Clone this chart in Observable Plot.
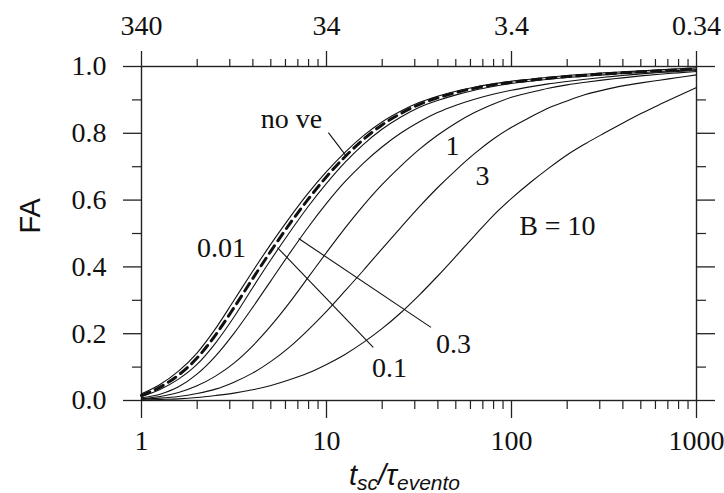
<!DOCTYPE html>
<html>
<head>
<meta charset="utf-8">
<script src="https://cdn.jsdelivr.net/npm/d3@7"></script>
<script src="https://cdn.jsdelivr.net/npm/@observablehq/plot@0.6"></script>
<style>
  html, body { margin: 0; padding: 0; background: #fff; }
</style>
</head>
<body>
<div id="chart"></div>
<script>
// ---- data ----
const xs = [1, 1.259, 1.585, 1.995, 2.512, 3.162, 3.981, 5.012, 6.310, 7.943,
            10, 12.59, 15.85, 19.95, 25.12, 31.62, 39.81, 50.12, 63.10, 79.43,
            100, 125.9, 158.5, 199.5, 251.2, 316.2, 398.1, 501.2, 631.0, 794.3, 1000];
const noVe = [0.020, 0.048, 0.088, 0.142, 0.215, 0.300, 0.386, 0.469, 0.547, 0.620, 0.685, 0.743, 0.793, 0.834, 0.866, 0.892, 0.911, 0.926, 0.938, 0.948, 0.956, 0.962, 0.968, 0.973, 0.977, 0.981, 0.984, 0.987, 0.990, 0.993, 0.996];
const b001 = [0.015, 0.040, 0.076, 0.127, 0.196, 0.278, 0.364, 0.448, 0.528, 0.602, 0.670, 0.730, 0.782, 0.825, 0.859, 0.886, 0.906, 0.922, 0.935, 0.945, 0.953, 0.959, 0.965, 0.970, 0.974, 0.978, 0.981, 0.984, 0.987, 0.990, 0.993];
const b01  = [0.012, 0.033, 0.064, 0.108, 0.172, 0.250, 0.337, 0.422, 0.503, 0.580, 0.650, 0.713, 0.767, 0.812, 0.848, 0.877, 0.898, 0.915, 0.929, 0.940, 0.949, 0.956, 0.962, 0.967, 0.971, 0.975, 0.979, 0.982, 0.985, 0.988, 0.991];
const b03  = [0.008, 0.019, 0.041, 0.079, 0.133, 0.201, 0.278, 0.359, 0.440, 0.518, 0.590, 0.655, 0.711, 0.759, 0.800, 0.834, 0.862, 0.884, 0.902, 0.917, 0.929, 0.939, 0.948, 0.955, 0.962, 0.968, 0.973, 0.978, 0.982, 0.985, 0.988];
const b1   = [0.005, 0.012, 0.024, 0.044, 0.073, 0.112, 0.163, 0.224, 0.293, 0.368, 0.443, 0.516, 0.584, 0.646, 0.701, 0.751, 0.794, 0.831, 0.862, 0.887, 0.908, 0.922, 0.935, 0.945, 0.953, 0.960, 0.966, 0.972, 0.977, 0.981, 0.985];
const b3   = [0.004, 0.007, 0.012, 0.021, 0.034, 0.055, 0.082, 0.117, 0.160, 0.211, 0.267, 0.328, 0.390, 0.454, 0.517, 0.579, 0.637, 0.690, 0.739, 0.782, 0.818, 0.848, 0.876, 0.897, 0.916, 0.930, 0.942, 0.951, 0.959, 0.967, 0.975];
const b10  = [0.001, 0.003, 0.005, 0.009, 0.015, 0.022, 0.032, 0.045, 0.062, 0.082, 0.108, 0.138, 0.174, 0.215, 0.262, 0.315, 0.372, 0.432, 0.493, 0.553, 0.605, 0.652, 0.695, 0.735, 0.769, 0.800, 0.830, 0.859, 0.886, 0.912, 0.937];

const solidSeries = [["no ve", noVe], ["0.1", b01], ["0.3", b03], ["1", b1], ["3", b3], ["10", b10]];
const dashedSeries = [["0.01", b001]];

const xMajor = [1, 10, 100, 1000];
const xMinor = [2,3,4,5,6,7,8,9, 20,30,40,50,60,70,80,90, 200,300,400,500,600,700,800,900];
const topLabels = ["340", "34", "3.4", "0.34"];
const yMajor = [0, 0.2, 0.4, 0.6, 0.8, 1.0];
const yMinor = [0.1, 0.3, 0.5, 0.7, 0.9];

// curve labels and leader lines (data coordinates)
const labelText = ["no ve", "0.01", "0.1", "0.3", "1", "3", "B = 10"];
const labelX    = [6.47, 2.71, 21.9, 48.6, 48, 69.7, 177];
const labelY    = [0.844, 0.455, 0.096, 0.168, 0.763, 0.671, 0.521];
const leaderX1 = [10.24, 5.43, 7.07];
const leaderY1 = [0.802, 0.458, 0.485];
const leaderX2 = [12.7, 17.9, 36.7];
const leaderY2 = [0.734, 0.159, 0.219];

// ---- tables ----
const toRows = list => list.flatMap(([name, ys]) => xs.map((x, i) => ({series: name, x, y: ys[i]})));
const solidRows = toRows(solidSeries);
const dashedRows = toRows(dashedSeries);
const labels = labelText.map((t, i) => ({t, x: labelX[i], y: labelY[i]}));
const leaders = leaderX1.map((d, i) => ({x1: d, y1: leaderY1[i], x2: leaderX2[i], y2: leaderY2[i]}));
const topMap = new Map(xMajor.map((d, i) => [d, topLabels[i]]));

const serif = "'Liberation Serif', 'DejaVu Serif', serif";
const sans = "'Liberation Sans', Arial, sans-serif";
const axisColor = "#222";

const plot = Plot.plot({
  width: 724,
  height: 493,
  marginLeft: 141,
  marginRight: 28,
  marginTop: 66,
  marginBottom: 93,
  x: {type: "log", domain: [1, 1000]},
  y: {domain: [0, 1]},
  style: {fontFamily: serif, fontSize: "28px", color: "#111", background: "#fff", overflow: "visible"},
  marks: [
    // bottom axis
    Plot.axisX({anchor: "bottom", ticks: xMajor, tickSize: 18, tickPadding: 12, tickFormat: d => String(d), label: null, fontSize: 28, stroke: axisColor, strokeWidth: 1.3}),
    Plot.axisX({anchor: "bottom", ticks: xMinor, tickSize: 9, tickFormat: () => "", label: null, stroke: axisColor, strokeWidth: 1.2}),
    // top axis
    Plot.axisX({anchor: "top", ticks: xMajor, tickSize: 16, tickPadding: 16, tickFormat: d => topMap.get(d), label: null, fontSize: 28, stroke: axisColor, strokeWidth: 1.3}),
    Plot.axisX({anchor: "top", ticks: xMinor, tickSize: 8, tickFormat: () => "", label: null, stroke: axisColor, strokeWidth: 1.2}),
    // left axis
    Plot.axisY({anchor: "left", ticks: yMajor, tickSize: 18, tickPadding: 17, tickFormat: d3.format(".1f"), label: null, fontSize: 28, stroke: axisColor, strokeWidth: 1.3}),
    Plot.axisY({anchor: "left", ticks: yMinor, tickSize: 9, tickFormat: () => "", label: null, stroke: axisColor, strokeWidth: 1.2}),
    // right axis
    Plot.axisY({anchor: "right", ticks: yMajor, tickSize: 18, tickFormat: () => "", label: null, stroke: axisColor, strokeWidth: 1.3}),
    Plot.axisY({anchor: "right", ticks: yMinor, tickSize: 9, tickFormat: () => "", label: null, stroke: axisColor, strokeWidth: 1.2}),
    Plot.frame({stroke: axisColor, strokeWidth: 1.4}),
    // curves
    Plot.line(solidRows, {x: "x", y: "y", z: "series", curve: "monotone-x", stroke: "#111", strokeWidth: 1.1}),
    Plot.line(dashedRows, {x: "x", y: "y", z: "series", curve: "monotone-x", stroke: "#111", strokeWidth: 3, strokeDasharray: "9,6"}),
    // leader lines
    Plot.link(leaders, {x1: "x1", y1: "y1", x2: "x2", y2: "y2", stroke: "#111", strokeWidth: 1.1}),
    // labels
    Plot.text(labels, {x: "x", y: "y", text: "t", fontSize: 28, fontFamily: serif, fill: "#111"}),
    // y axis title
    Plot.text(["FA"], {frameAnchor: "left", dx: -111, rotate: -90, fontSize: 29, fontFamily: sans, fill: "#111"})
  ]
});

// x axis title with subscripts
const svg = d3.select(plot);
const xr = plot.scale("x").range;
const t = svg.append("text")
  .attr("x", (xr[0] + xr[1]) / 2 - 14)
  .attr("y", 485)
  .attr("text-anchor", "middle")
  .attr("font-family", sans)
  .attr("font-style", "italic")
  .attr("font-size", 29)
  .attr("fill", "#111");
t.append("tspan").text("t");
t.append("tspan").attr("font-size", 21).attr("dy", 5).text("sc");
t.append("tspan").attr("dy", -5).text("/τ");
t.append("tspan").attr("font-size", 21).attr("dy", 5).text("evento");

document.getElementById("chart").appendChild(plot);
</script>
</body>
</html>
